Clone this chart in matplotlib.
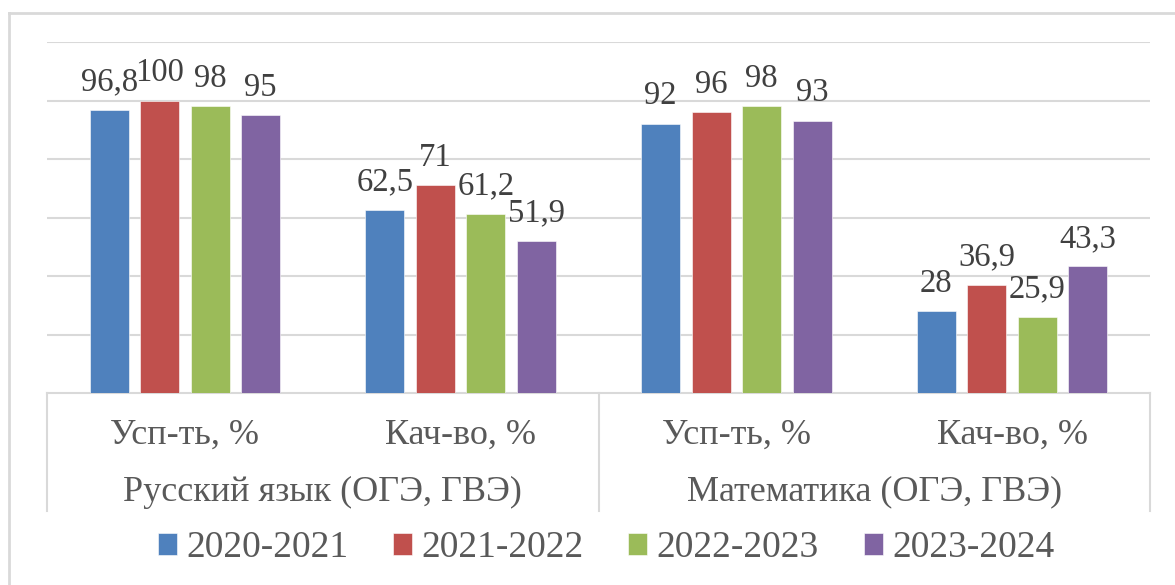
import numpy as np
import matplotlib.pyplot as plt
import matplotlib.transforms as mtransforms
from matplotlib.lines import Line2D

plt.rcParams['font.family'] = ['Liberation Serif', 'DejaVu Serif']

# data
categories = ['Усп-ть, %', 'Кач-во, %', 'Усп-ть, %', 'Кач-во, %']
subjects = ['Русский язык (ОГЭ, ГВЭ)', 'Математика (ОГЭ, ГВЭ)']
years = ['2020-2021', '2021-2022', '2022-2023', '2023-2024']
v_2020_2021 = [96.8, 62.5, 92, 28]
v_2021_2022 = [100, 71, 96, 36.9]
v_2022_2023 = [98, 61.2, 98, 25.9]
v_2023_2024 = [95, 51.9, 93, 43.3]
series = [v_2020_2021, v_2021_2022, v_2022_2023, v_2023_2024]
colors = ['#4F81BD', '#C0504D', '#9BBB59', '#8064A2']

W, H = 1175, 585
fig = plt.figure(figsize=(W / 100, H / 100), dpi=100)
ax = fig.add_axes([47 / W, 1 - 393 / H, (1150 - 47) / W, (393 - 42) / H])

x = np.arange(len(categories))
step = 0.183
width = 0.141
for i, (vals, c, yr) in enumerate(zip(series, colors, years)):
    pos = x + (i - 1.5) * step
    ax.bar(pos, vals, width, color=c, label=yr, zorder=3,
           edgecolor='white', linewidth=0.4)
    for p, v in zip(pos, vals):
        ax.annotate(f'{v:g}'.replace('.', ','), (p, v), xytext=(0, 20),
                    textcoords='offset points', ha='center', va='center',
                    fontsize=23.5, color='#404040', zorder=4)

ax.set_xlim(-0.5, 3.5)
ax.set_ylim(0, 120)
ax.set_yticks(np.arange(20, 121, 20))
ax.yaxis.grid(True, color='#d9d9d9', linewidth=1.5, zorder=0)
ax.tick_params(left=False, labelleft=False, bottom=False, labelbottom=False)
for s in ['top', 'right', 'left']:
    ax.spines[s].set_visible(False)
ax.spines['bottom'].set_color('#d9d9d9')
ax.spines['bottom'].set_linewidth(1.5)

# two-level category axis
trans = mtransforms.blended_transform_factory(ax.transData, ax.transAxes)
ah = 393 - 42
for xi, lab in zip(x, categories):
    ax.text(xi, -42 / ah, lab, transform=trans, ha='center', va='center',
            fontsize=26, color='#595959')
for k, lab in enumerate(subjects):
    ax.text(2 * k + 0.5, -99 / ah, lab, transform=trans, ha='center', va='center',
            fontsize=26, color='#595959')
for xv in [-0.5, 1.5, 3.5]:
    ax.plot([xv, xv], [0, -(511 - 393) / ah], transform=trans, color='#d9d9d9',
            linewidth=1.5, clip_on=False)

# outer frame of the chart area
fig.add_artist(Line2D([9 / W, 9 / W], [0, 1 - 13 / H], color='#d9d9d9', linewidth=2))
fig.add_artist(Line2D([9 / W, 1], [1 - 13 / H, 1 - 13 / H], color='#d9d9d9', linewidth=2))

fig.legend(loc='center', bbox_to_anchor=(606 / W, 1 - 548 / H), ncol=4,
           frameon=False, fontsize=27, handlelength=0.5, handleheight=0.5,
           handletextpad=0.25, columnspacing=1.2, labelcolor='#595959')

fig.savefig('out.png', dpi=100)
